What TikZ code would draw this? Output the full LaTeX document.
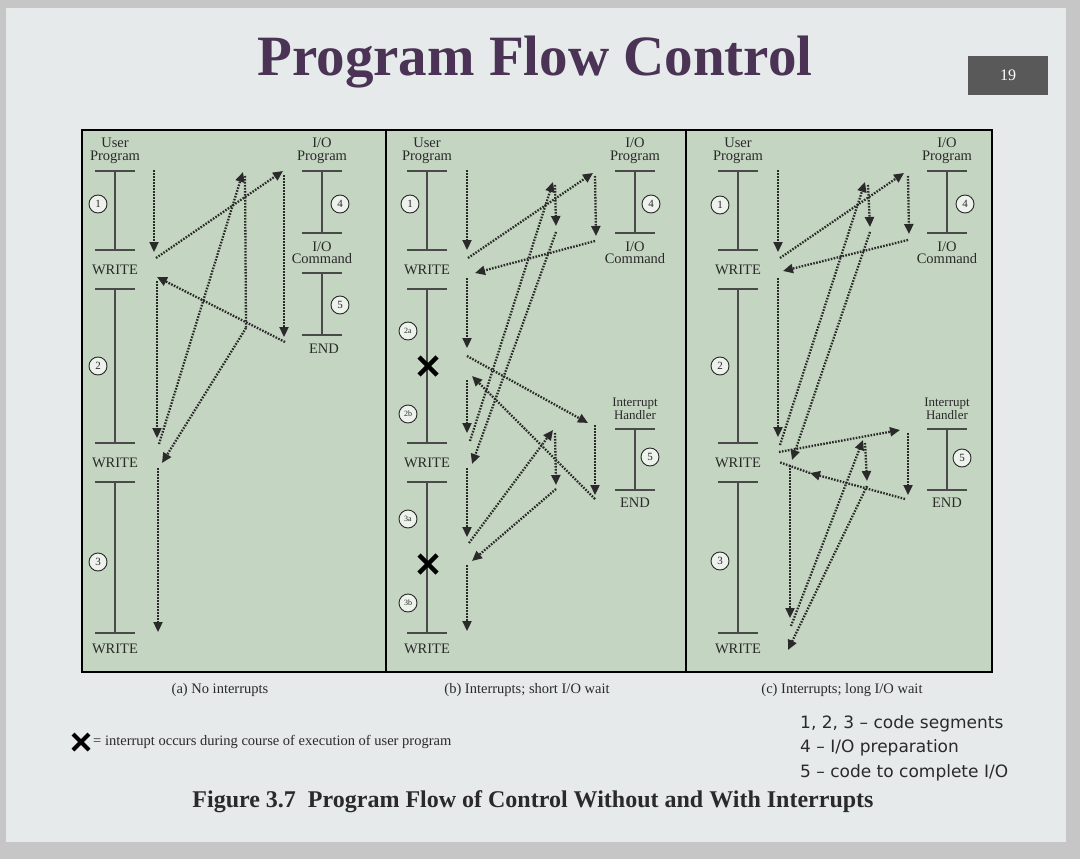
\documentclass[tikz,border=0pt]{standalone}
\usepackage{fontspec}
\setmainfont{Liberation Serif}
\newfontfamily\legfont{DejaVu Sans}
\usetikzlibrary{arrows.meta}
\definecolor{slidebg}{HTML}{E6EAEA}
\definecolor{panelg}{HTML}{C4D5C1}
\definecolor{titlec}{HTML}{4A3355}
\definecolor{inkc}{HTML}{2A2A2A}
\tikzset{
 flow/.style={dash pattern=on 1.6pt off 1.4pt, line width=2.3pt, draw=inkc, -{Triangle[length=10pt,width=9pt]}},
 flowline/.style={dash pattern=on 1.6pt off 1.4pt, line width=2.3pt, draw=inkc},
 bar/.style={line width=1.3pt, draw=inkc!85},
 lbl/.style={font=\fontsize{14.5}{12.5}\selectfont, text=inkc, align=center, inner sep=0pt},
 cnum/.style={circle, draw=inkc, line width=0.9pt, fill=white!70!panelg, inner sep=0pt, minimum size=18pt, font=\fontsize{11}{11}\selectfont, text=inkc},
 capt/.style={font=\fontsize{14.5}{14}\selectfont, text=inkc, inner sep=0pt},
 xmark/.style={line width=4.5pt, draw=black}
}
\begin{document}
\begin{tikzpicture}[x=1pt,y=-1pt]
\useasboundingbox (0,0) rectangle (1080,859);
\fill[gray!45] (0,0) rectangle (1080,859);
\fill[slidebg] (6,8) rectangle (1066,842);
\node[font=\fontsize{57}{57}\selectfont\bfseries, text=titlec] (title) at (535,62) {Program Flow Control};
\fill[gray!70!black] (968,56) rectangle (1048,95);
\node[font=\fontsize{16}{16}\selectfont, text=white] (pg) at (1008,75) {19};
% panels
\fill[panelg] (82,130) rectangle (992,672);
\draw[line width=2pt, black] (82,130) rectangle (992,672);
\draw[line width=2.5pt, black] (386,130) -- (386,672);
\draw[line width=2.5pt, black] (686,130) -- (686,672);
% ---------- user programs / IO programs
\foreach \u in {115,427,738}{
 \foreach \yy in {171,250,289,443,482,633}{\draw[bar] (\u-20,\yy) -- (\u+20,\yy);}
 \draw[bar] (\u,171) -- (\u,250);
 \draw[bar] (\u,289) -- (\u,443);
 \draw[bar] (\u,482) -- (\u,633);
}
\foreach \u/\p in {115/a,427/b,738/c}{
 \node[lbl] (up\p) at (\u,151) {User\\Program};
 \node[lbl] (w1\p) at (\u,270) {WRITE};
 \node[lbl] (w2\p) at (\u,463) {WRITE};
 \node[lbl] (w3\p) at (\u,649) {WRITE};
}
% IO program columns
\foreach \v/\p in {322/a,635/b,947/c}{
 \node[lbl] (iop\p) at (\v,151) {I/O\\Program};
 \draw[bar] (\v-20,171) -- (\v+20,171);
 \draw[bar] (\v,171) -- (\v,233);
 \draw[bar] (\v-20,233) -- (\v+20,233);
 \node[lbl] (ioc\p) at (\v,253) {I/O\\Command};
}
\draw[bar] (302,273) -- (342,273); \draw[bar] (322,273) -- (322,335); \draw[bar] (302,335) -- (342,335);
\node[lbl] (enda) at (324,349) {END};
\foreach \v/\p in {635/b,947/c}{
 \node[lbl, font=\fontsize{13}{11.5}\selectfont] (ih\p) at (\v,409) {Interrupt\\Handler};
 \draw[bar] (\v-20,429) -- (\v+20,429);
 \draw[bar] (\v,429) -- (\v,490);
 \draw[bar] (\v-20,490) -- (\v+20,490);
 \node[lbl] (end\p) at (\v,503) {END};
}
% circled numbers
\node[cnum] (a1n) at (98,204) {1}; \node[cnum] (a2n) at (98,366) {2}; \node[cnum] (a3n) at (98,562) {3};
\node[cnum] (a4n) at (340,204) {4}; \node[cnum] (a5n) at (340,305) {5};
\node[cnum] (b1n) at (410,204) {1}; \node[cnum,font=\fontsize{8}{8}\selectfont] (b2a) at (408,331) {2a};
\node[cnum,font=\fontsize{8}{8}\selectfont] (b2b) at (408,414) {2b};
\node[cnum,font=\fontsize{8}{8}\selectfont] (b3a) at (408,519) {3a};
\node[cnum,font=\fontsize{8}{8}\selectfont] (b3b) at (408,603) {3b};
\node[cnum] (b4n) at (651,204) {4}; \node[cnum] (b5n) at (650,457) {5};
\node[cnum] (c1n) at (720,205) {1}; \node[cnum] (c2n) at (720,366) {2}; \node[cnum] (c3n) at (720,561) {3};
\node[cnum] (c4n) at (965,204) {4}; \node[cnum] (c5n) at (962,458) {5};
% X marks
\foreach \yy in {366,564}{\draw[xmark] (419,\yy-9) -- (437,\yy+9); \draw[xmark] (419,\yy+9) -- (437,\yy-9);}
% ---------- panel (a) flows
\coordinate (pa0) at (154,170); \coordinate (pa1) at (154,252);
\coordinate (pa2) at (156,258); \coordinate (pa3) at (283,171);
\coordinate (pa4) at (284,175); \coordinate (pa5) at (284,337);
\coordinate (pa6) at (285,342); \coordinate (pa7) at (157,277);
\coordinate (pa8) at (157,281); \coordinate (pa9) at (157,438);
\coordinate (pa10) at (159,444); \coordinate (pa11) at (243,172);
\coordinate (pa12) at (245,176); \coordinate (pa13) at (246,328);
\coordinate (pa14) at (162,463); \coordinate (pa15) at (158,468);
\coordinate (pa16) at (158,632);
\draw[flow] (pa0) -- (pa1); \draw[flow] (pa2) -- (pa3); \draw[flow] (pa4) -- (pa5);
\draw[flow] (pa6) -- (pa7); \draw[flow] (pa8) -- (pa9); \draw[flow] (pa10) -- (pa11);
\draw[flowline] (pa12) -- (pa13); \draw[flow] (pa13) -- (pa14); \draw[flow] (pa15) -- (pa16);
% ---------- panel (b) flows
\coordinate (pb0) at (467,170); \coordinate (pb1) at (467,250);
\coordinate (pb2) at (468,258); \coordinate (pb3) at (593,173);
\coordinate (pb4) at (595,176); \coordinate (pb5) at (596,236);
\coordinate (pb6) at (595,241); \coordinate (pb7) at (475,273);
\coordinate (pb8) at (467,278); \coordinate (pb9) at (467,348);
\coordinate (pb10) at (467,356); \coordinate (pb11) at (588,423);
\coordinate (pb12) at (595,425); \coordinate (pb13) at (595,495);
\coordinate (pb14) at (595,499); \coordinate (pb15) at (472,376);
\coordinate (pb16) at (467,380); \coordinate (pb17) at (467,433);
\coordinate (pb18) at (470,441); \coordinate (pb19) at (553,182);
\coordinate (pb20) at (555,185); \coordinate (pb21) at (556,226);
\coordinate (pb22) at (556,232); \coordinate (pb23) at (472,464);
\coordinate (pb24) at (467,468); \coordinate (pb25) at (467,537);
\coordinate (pb26) at (469,543); \coordinate (pb27) at (553,430);
\coordinate (pb28) at (555,433); \coordinate (pb29) at (556,485);
\coordinate (pb30) at (556,489); \coordinate (pb31) at (472,561);
\coordinate (pb32) at (467,565); \coordinate (pb33) at (467,631);
\foreach \s/\e in {0/1,2/3,4/5,6/7,8/9,10/11,12/13,14/15,16/17,18/19,20/21,22/23,24/25,26/27,28/29,30/31,32/33}{\draw[flow] (pb\s) -- (pb\e);}
% ---------- panel (c) flows
\coordinate (pc0) at (778,170); \coordinate (pc1) at (778,252);
\coordinate (pc2) at (780,258); \coordinate (pc3) at (904,173);
\coordinate (pc4) at (908,176); \coordinate (pc5) at (909,234);
\coordinate (pc6) at (908,240); \coordinate (pc7) at (783,271);
\coordinate (pc8) at (778,278); \coordinate (pc9) at (778,437);
\coordinate (pc10) at (780,445); \coordinate (pc11) at (865,182);
\coordinate (pc12) at (868,185); \coordinate (pc13) at (870,227);
\coordinate (pc14) at (870,232); \coordinate (pc15) at (792,460);
\coordinate (pc16) at (779,452); \coordinate (pc17) at (900,430);
\coordinate (pc18) at (908,433); \coordinate (pc19) at (908,495);
\coordinate (pc20) at (905,499); \coordinate (pc21) at (810,473);
\coordinate (pc22) at (779,462);
\coordinate (pc23) at (790,465); \coordinate (pc24) at (790,618);
\coordinate (pc25) at (791,626); \coordinate (pc26) at (863,440);
\coordinate (pc27) at (865,443); \coordinate (pc28) at (867,481);
\coordinate (pc29) at (867,486); \coordinate (pc30) at (788,650);
\foreach \s/\e in {0/1,2/3,4/5,6/7,8/9,10/11,12/13,14/15,16/17,18/19,20/21,23/24,25/26,27/28,29/30}{\draw[flow] (pc\s) -- (pc\e);}
\draw[flowline] (pc21) -- (pc22);
% ---------- captions
\node[capt] (capa) at (220,690) {(a) No interrupts};
\node[capt] (capb) at (527,690) {(b) Interrupts; short I/O wait};
\node[capt] (capc) at (842,690) {(c) Interrupts; long I/O wait};
\draw[line width=4pt] (73,734) -- (89,750); \draw[line width=4pt] (73,750) -- (89,734);
\node[capt, anchor=west] (legx) at (93,742) {= interrupt occurs during course of execution of user program};
\node[anchor=west, font=\legfont\fontsize{17}{24.5}\selectfont, align=left, inner sep=0pt, text=inkc] (legr) at (800,748) {1, 2, 3 – code segments\\4 – I/O preparation\\5 – code to complete I/O};
\node[font=\fontsize{24}{24}\selectfont\bfseries, text=inkc] (fig) at (533,802) {Figure 3.7\ \ Program Flow of Control Without and With Interrupts};
\end{tikzpicture}
\end{document}
